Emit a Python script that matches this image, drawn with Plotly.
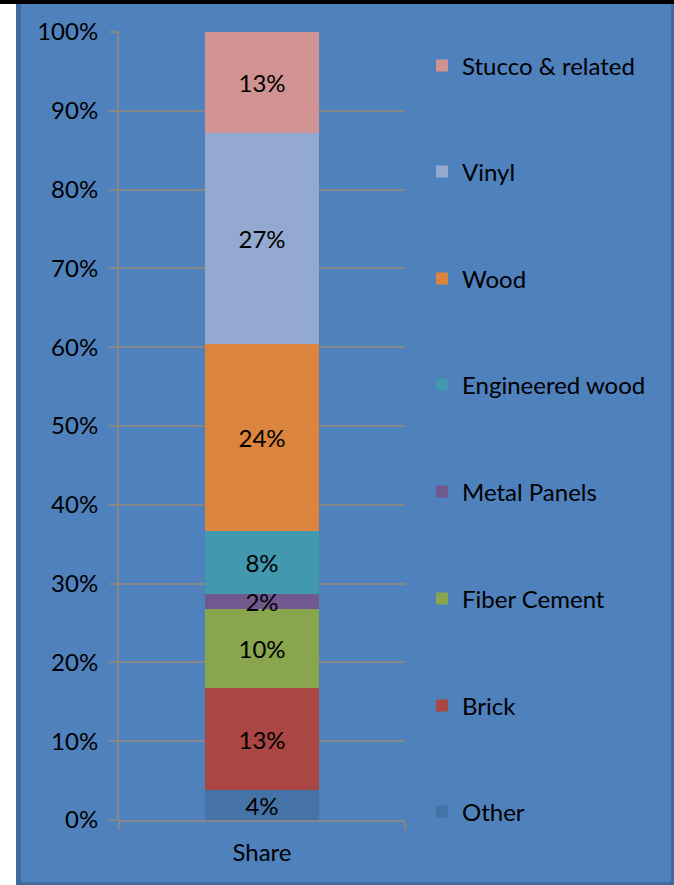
import plotly.graph_objects as go

categories = ["Share"]
series_names = ["Other", "Brick", "Fiber Cement", "Metal Panels",
                "Engineered wood", "Wood", "Vinyl", "Stucco & related"]
series_values = [3.8, 12.95, 10.0, 1.9, 8.0, 23.7, 26.8, 12.85]
series_labels = ["4%", "13%", "10%", "2%", "8%", "24%", "27%", "13%"]
series_colors = ["#4573A7", "#AA4643", "#89A54E", "#71588F",
                 "#4198AF", "#DB843D", "#93A9CF", "#D19392"]
tick_vals = [0, 10, 20, 30, 40, 50, 60, 70, 80, 90, 100]
tick_text = [f"{v}%" for v in tick_vals]

W, H = 674, 885
L, R, T, B = 119, 269, 32, 65
pw, ph = W - L - R, H - T - B

def px(x):
    return (x - L) / pw

def py(y):
    return (H - B - y) / ph

FONT = "Lato"
FS = 24
BG = "#4F81BD"

fig = go.Figure()
legend_y = [812, 706, 599, 492, 385, 279, 172, 66]
for i, (name, val, lab, col) in enumerate(zip(series_names, series_values, series_labels, series_colors)):
    lname = "legend" if i == 0 else f"legend{i+1}"
    fig.add_trace(go.Bar(
        x=categories, y=[val], name=name, marker=dict(color=col, line=dict(width=0)),
        text=[lab], textposition="inside", insidetextanchor="middle", textangle=0,
        textfont=dict(family=FONT, size=FS, color="black"),
        hoverinfo="skip", legend=lname, width=0.4,
    ))

layout_legends = {}
for i, yy in enumerate(legend_y):
    lname = "legend" if i == 0 else f"legend{i+1}"
    layout_legends[lname] = dict(
        x=px(422), xanchor="left", y=py(yy), yanchor="middle",
        bgcolor="rgba(0,0,0,0)", font=dict(family=FONT, size=FS, color="black"),
        itemclick=False, itemdoubleclick=False,
    )

shapes = [
    dict(type="rect", xref="paper", yref="paper", x0=px(0), x1=px(16), y0=py(0), y1=py(H),
         fillcolor="white", line=dict(width=0), layer="above"),
    dict(type="rect", xref="paper", yref="paper", x0=px(16), x1=px(21), y0=py(0), y1=py(H),
         fillcolor="#3E6A9E", line=dict(width=0), layer="above"),
    dict(type="rect", xref="paper", yref="paper", x0=px(671), x1=px(W), y0=py(0), y1=py(H),
         fillcolor="#3E6A9E", line=dict(width=0), layer="above"),
    dict(type="rect", xref="paper", yref="paper", x0=px(16), x1=px(W), y0=py(882), y1=py(H),
         fillcolor="#3E6A9E", line=dict(width=0), layer="above"),
    dict(type="rect", xref="paper", yref="paper", x0=px(0), x1=px(W), y0=py(0), y1=py(4),
         fillcolor="black", line=dict(width=0), layer="above"),
]

fig.update_layout(
    width=W, height=H, margin=dict(l=L, r=R, t=T, b=B, autoexpand=False),
    paper_bgcolor=BG, plot_bgcolor=BG, barmode="stack", bargap=0.6,
    showlegend=True, shapes=shapes,
    uniformtext=dict(minsize=FS, mode="show"),
    font=dict(family=FONT, size=FS, color="black"),
    xaxis=dict(showgrid=False, showline=True, linecolor="#878787", linewidth=2,
               ticks="outside", tickson="boundaries", ticklen=8, tickcolor="#878787", tickwidth=2,
               ticklabelstandoff=10,
               tickfont=dict(family=FONT, size=FS, color="black"), fixedrange=True),
    yaxis=dict(range=[0, 100], tickvals=tick_vals, ticktext=tick_text,
               showgrid=True, gridcolor="#878787", gridwidth=2,
               showline=True, linecolor="#878787", linewidth=2,
               ticks="outside", ticklen=8, tickcolor="#878787", tickwidth=2,
               ticklabelstandoff=6,
               tickfont=dict(family=FONT, size=FS, color="black"), zeroline=False, fixedrange=True),
    **layout_legends,
)

fig.write_html("out.html", config={"displayModeBar": False},
               post_script="document.body.style.margin='0';document.body.style.overflow='hidden';")
